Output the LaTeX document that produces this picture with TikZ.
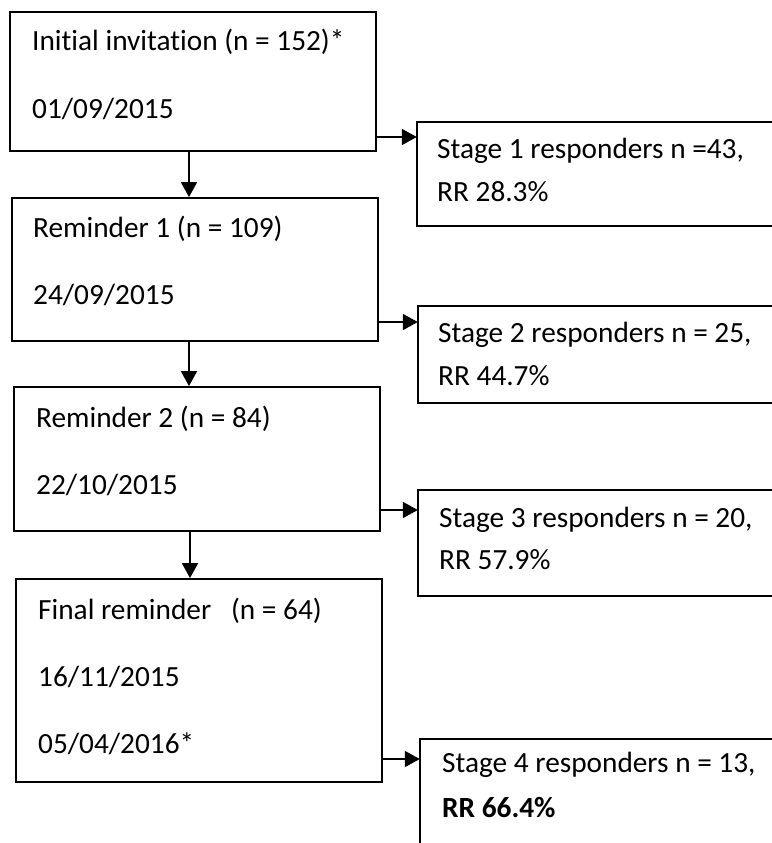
\documentclass[tikz,border=0pt]{standalone}
\usepackage{fontspec}
\setmainfont[Ligatures={NoCommon}]{Carlito}
\usetikzlibrary{arrows.meta}
\begin{document}
\begin{tikzpicture}[x=1pt,y=-1pt,
  box/.style={draw, line width=1.8pt, rectangle, inner sep=0pt},
  stg/.style={rectangle, inner sep=0pt},
  txt/.style={anchor=base west, inner sep=0pt, font=\fontsize{29.3}{34}\selectfont},
  arr/.style={line width=1.8pt, -{Triangle[length=15pt,width=16pt]}},
  openbox/.style={line width=1.5pt}]
\useasboundingbox (0,0) rectangle (771,843);

% left boxes
\node[box, minimum width=366pt, minimum height=139pt] (b1) at (193,81.5) {};
\node[box, minimum width=366pt, minimum height=143pt] (b2) at (195,269.5) {};
\node[box, minimum width=366pt, minimum height=144pt] (b3) at (197,459) {};
\node[box, minimum width=366pt, minimum height=203pt] (b4) at (199,680.5) {};

% stage boxes (open on the right)
\node[stg, minimum width=356pt, minimum height=104pt] (s1) at (595,174) {};
\node[stg, minimum width=356pt, minimum height=97pt] (s2) at (596,354.5) {};
\node[stg, minimum width=356pt, minimum height=106pt] (s3) at (596,543) {};
\node[stg, minimum width=354pt, minimum height=120pt] (s4) at (597,799) {};
\draw[openbox] (s1.north east) -- (s1.north west) -- (s1.south west) -- (s1.south east);
\draw[openbox] (s2.north east) -- (s2.north west) -- (s2.south west) -- (s2.south east);
\draw[openbox] (s3.north east) -- (s3.north west) -- (s3.south west) -- (s3.south east);
\draw[openbox] (s4.north east) -- (s4.north west) -- (s4.south west);

% texts
\node[txt] (b1a) at (32,51) {Initial invitation (n = 152)*};
\node[txt] (b1b) at (32,118) {01/09/2015};
\node[txt] (b2a) at (33,237) {Reminder 1 (n = 109)};
\node[txt] (b2b) at (33,304) {24/09/2015};
\node[txt] (b3a) at (36,427) {Reminder 2 (n = 84)};
\node[txt] (b3b) at (36,494) {22/10/2015};
\node[txt] (b4a) at (38,619) {Final reminder \ \ (n = 64)};
\node[txt] (b4b) at (38,686) {16/11/2015};
\node[txt] (b4c) at (38,753) {05/04/2016*};

\node[txt] (s1a) at (437,158) {Stage 1 responders n =43,};
\node[txt] (s1b) at (437,201) {RR 28.3\%};
\node[txt] (s2a) at (438,342) {Stage 2 responders n = 25,};
\node[txt] (s2b) at (438,385) {RR 44.7\%};
\node[txt] (s3a) at (439,527) {Stage 3 responders n = 20,};
\node[txt] (s3b) at (439,569) {RR 57.9\%};
\node[txt] (s4a) at (442,772) {Stage 4 responders n = 13,};
\node[txt, font=\fontsize{29.3}{34}\selectfont\bfseries] (s4b) at (442,817) {RR 66.4\%};

% down arrows
\draw[arr] (189,0 |- b1.south) -- (189,0 |- b2.north);
\draw[arr] (189,0 |- b2.south) -- (189,0 |- b3.north);
\draw[arr] (190,0 |- b3.south) -- (190,0 |- b4.north);

% right arrows
\draw[arr] (b1.east |- 0,137) -- (s1.west |- 0,137);
\draw[arr] (b2.east |- 0,322) -- (s2.west |- 0,322);
\draw[arr] (b3.east |- 0,510) -- (s3.west |- 0,510);
\draw[arr] (b4.east |- 0,759) -- (s4.west |- 0,759);
\end{tikzpicture}
\end{document}
